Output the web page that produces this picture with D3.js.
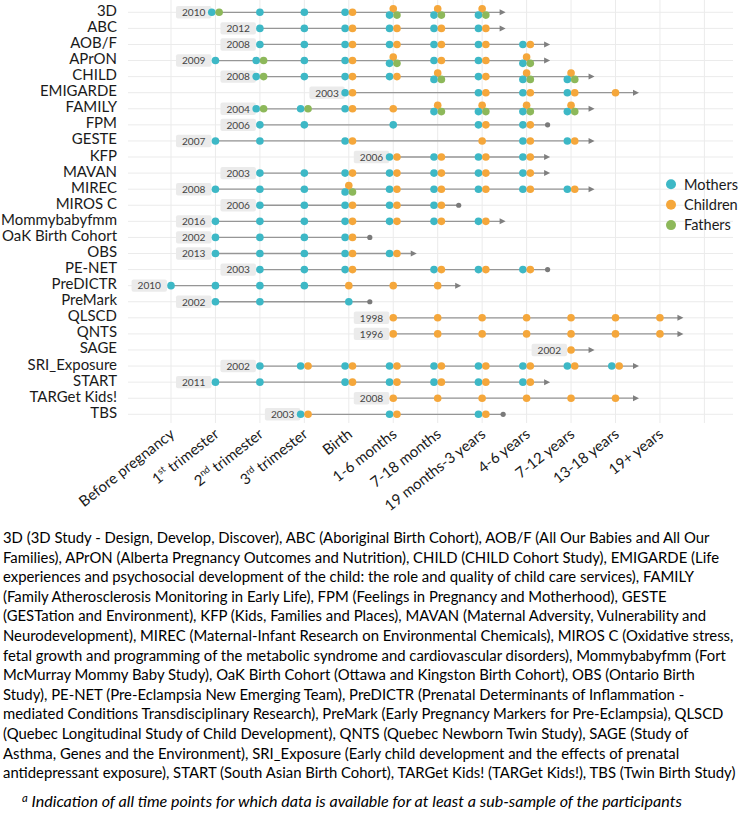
<!DOCTYPE html>
<html><head><meta charset="utf-8">
<script src="https://cdn.jsdelivr.net/npm/d3@7"></script>
<style>body{margin:0;background:#fff}svg{display:block}</style>
</head><body><svg id="c" width="742" height="814"></svg>
<script>
// ---------------- DATA ----------------
const studies = ["3D","ABC","AOB/F","APrON","CHILD","EMIGARDE","FAMILY","FPM","GESTE","KFP","MAVAN","MIREC","MIROS C","Mommybabyfmm","OaK Birth Cohort","OBS","PE-NET","PreDICTR","PreMark","QLSCD","QNTS","SAGE","SRI_Exposure","START","TARGet Kids!","TBS"];
const startYears = [2010,2012,2008,2009,2008,2003,2004,2006,2007,2006,2003,2008,2006,2016,2002,2013,2003,2010,2002,1998,1996,2002,2002,2011,2008,2003];
const timepoints = ["Before pregnancy","1st trimester","2nd trimester","3rd trimester","Birth","1-6 months","7-18 months","19 months-3 years","4-6 years","7-12 years","13-18 years","19+ years"];
// time-point indices (into timepoints) at which data exist, per study
const mothers = [
  [1,2,3,4,5,6,7],[2,3,4,5,6,7],[2,3,4,5,6,7,8],[1,2,3,4,5,6,7,8],[2,3,4,5,6,7,8,9],
  [4,7,8,9],[2,3,4,6,7,8,9],[2,3,5,7,8],[1,2,4,8,9],[5,6,7,8],
  [2,3,4,5,6,7,8],[1,2,3,4,5,6,7,8,9],[2,3,4,5,6],[1,2,3,4,5,6,7],[1,2,3,4],
  [1,2,3,4,5],[2,3,4,6,7,8],[0,1,2,3],[1,2,4],[],
  [],[],[2,3,4,5,6,7,8,9,10],[1,2,4,5,6,7,8],[],[3,5,7]
];
const children = [
  [4,5,6,7],[4,5,6,7],[4,5,6,7,8],[4,5,6,7,8],[4,5,6,7,8,9],
  [4,7,8,9,10],[4,5,6,7,8,9],[7,8],[4,7,8,9],[5,6,7,8],
  [4,5,6,7,8],[4,5,6,7,8,9],[4,5,6],[4,5,6,7],[4],
  [4,5],[4,6,7,8],[4,5,6],[],[5,6,7,8,9,10,11],
  [5,6,7,8,9,10,11],[9],[3,4,5,6,7,8,9,10],[4,5,6,7,8],[5,6,7,8,9,10],[3,5,7]
];
const fathers = [
  [1,5,6,7],[],[],[2,5,8],[2,6,8,9],
  [],[2,3,6,7,8,9],[],[],[],
  [],[4],[],[],[],
  [],[],[],[],[],
  [],[],[],[],[],[]
];
const followUp = ["ongoing","ongoing","ongoing","ongoing","ongoing","ongoing","ongoing","ended","ongoing","ongoing",
  "ongoing","ongoing","ended","ongoing","ended","ongoing","ended","ongoing","ended","ongoing",
  "ongoing","ongoing","ongoing","ongoing","ongoing","ended"];
const groups = ["Mothers","Children","Fathers"];
const groupColors = ["#3DB8C6","#F5A73B","#8DB85A"];
const studyNotes = [
  "3D (3D Study - Design, Develop, Discover), ABC (Aboriginal Birth Cohort), AOB/F (All Our Babies and All Our",
  "Families), APrON (Alberta Pregnancy Outcomes and Nutrition), CHILD (CHILD Cohort Study), EMIGARDE (Life",
  "experiences and psychosocial development of the child: the role and quality of child care services), FAMILY",
  "(Family Atherosclerosis Monitoring in Early Life), FPM (Feelings in Pregnancy and Motherhood), GESTE",
  "(GESTation and Environment), KFP (Kids, Families and Places), MAVAN (Maternal Adversity, Vulnerability and",
  "Neurodevelopment), MIREC (Maternal-Infant Research on Environmental Chemicals), MIROS C (Oxidative stress,",
  "fetal growth and programming of the metabolic syndrome and cardiovascular disorders), Mommybabyfmm (Fort",
  "McMurray Mommy Baby Study), OaK Birth Cohort (Ottawa and Kingston Birth Cohort), OBS (Ontario Birth",
  "Study), PE-NET (Pre-Eclampsia New Emerging Team), PreDICTR (Prenatal Determinants of Inflammation -",
  "mediated Conditions Transdisciplinary Research), PreMark (Early Pregnancy Markers for Pre-Eclampsia), QLSCD",
  "(Quebec Longitudinal Study of Child Development), QNTS (Quebec Newborn Twin Study), SAGE (Study of",
  "Asthma, Genes and the Environment), SRI_Exposure (Early child development and the effects of prenatal",
  "antidepressant exposure), START (South Asian Birth Cohort), TARGet Kids! (TARGet Kids!), TBS (Twin Birth Study)"
];
const footnoteMark = "a";
const footnoteText = "Indication of all time points for which data is available for at least a sub-sample of the participants";

// ---------------- LAYOUT ----------------
const FONT = "Lato, 'Open Sans', sans-serif";
const svg = d3.select("#c").style("font-family", FONT);
const x = d3.scaleLinear().domain([0, 12]).range([171, 704.4]);
const y = d3.scalePoint().domain(studies).range([12.3, 414.3]);
const color = d3.scaleOrdinal().domain(groups).range(groupColors);
const panel = {left: 128, right: 733, top: 0, bottom: 423};

// helper: fit font size so text width equals target
function fitSize(sample, target, base, style) {
  const t = svg.append("text").attr("font-size", base).attr("font-style", style || null).text(sample);
  const w = t.node().getComputedTextLength();
  t.remove();
  return base * target / w;
}
const rowFs = fitSize("Mommybabyfmm", 116, 16);
const yearFs = fitSize("2010", 23.5, 11);
const legFs = fitSize("Mothers", 54, 16);

// gridlines
const grid = svg.append("g").attr("stroke", "#EBEBEB").attr("stroke-width", 1);
grid.selectAll("line.v").data(d3.range(13)).join("line").attr("class","v")
  .attr("x1", d => x(d)).attr("x2", d => x(d)).attr("y1", panel.top).attr("y2", panel.bottom);
grid.selectAll("line.h").data(studies).join("line").attr("class","h")
  .attr("x1", panel.left).attr("x2", panel.right).attr("y1", d => y(d)).attr("y2", d => y(d));

// build records
const rows = studies.map((s, i) => {
  const all = Array.from(new Set([...mothers[i], ...children[i], ...fathers[i]])).sort((a,b)=>a-b);
  return {study: s, year: startYears[i], first: all[0], last: all[all.length-1], end: followUp[i], i};
});
const dots = [];
studies.forEach((s, i) => {
  const tps = Array.from(new Set([...mothers[i], ...children[i], ...fathers[i]]));
  tps.forEach(tp => {
    const has = [mothers[i].includes(tp), children[i].includes(tp), fathers[i].includes(tp)];
    const n = has.filter(Boolean).length;
    const pres = groups.filter((g, k) => has[k]);
    let off = {};
    if (n === 1) off[pres[0]] = [0, 0];
    else if (n === 2) { off[pres[0]] = [-3.7, 0]; off[pres[1]] = [3.7, 0]; }
    else { off.Children = [0, -3.6]; off.Mothers = [-3.7, 2.8]; off.Fathers = [3.7, 2.8]; }
    const order = n === 3 ? ["Children","Mothers","Fathers"] : pres;
    order.forEach(g => dots.push({study: s, tp, group: g, dx: off[g][0], dy: off[g][1]}));
  });
});

// follow-up lines
svg.append("g").selectAll("line").data(rows).join("line")
  .attr("x1", d => x(d.first)).attr("x2", d => x(d.last) + (d.end === "ongoing" ? 19 : 21))
  .attr("y1", d => y(d.study)).attr("y2", d => y(d.study))
  .attr("stroke", "#969696").attr("stroke-width", 1.3);

// end markers
svg.append("g").selectAll("path").data(rows.filter(d => d.end === "ongoing")).join("path")
  .attr("d", d => { const x0 = x(d.last) + 17.5, yy = y(d.study); return `M${x0},${yy-3}L${x0+6},${yy}L${x0},${yy+3}Z`; })
  .attr("fill", "#7F7F7F");
svg.append("g").selectAll("circle").data(rows.filter(d => d.end === "ended")).join("circle")
  .attr("cx", d => x(d.last) + 21).attr("cy", d => y(d.study)).attr("r", 2.6).attr("fill", "#7A7A7A");

// year labels
const yl = svg.append("g").selectAll("g").data(rows).join("g");
yl.append("text")
  .attr("x", d => x(d.first) - 10).attr("y", d => y(d.study) + 3.8)
  .attr("text-anchor", "end").attr("font-size", yearFs).attr("fill", "#444")
  .text(d => d.year);
yl.each(function(d) {
  const t = d3.select(this).select("text");
  const w = t.node().getComputedTextLength();
  const xr = x(d.first) - 4, xl = x(d.first) - 10 - w - 6;
  d3.select(this).insert("rect", "text")
    .attr("x", xl).attr("y", y(d.study) - 6.2).attr("width", xr - xl).attr("height", 12.4)
    .attr("rx", 2).attr("fill", "#EBEBEB");
});

// dots
svg.append("g").selectAll("circle").data(dots).join("circle")
  .attr("cx", d => x(d.tp) + d.dx).attr("cy", d => y(d.study) + d.dy)
  .attr("r", 3.8).attr("fill", d => color(d.group));

// y axis (study names)
const yAxis = svg.append("g").attr("transform", "translate(117,0)")
  .call(d3.axisLeft(y).tickSize(0).tickPadding(0));
yAxis.select(".domain").remove();
yAxis.selectAll("text").attr("font-family", FONT).attr("font-size", rowFs).attr("fill", "#1a1a1a")
  .attr("dy", null).attr("y", 3);

// x axis (time points)
const xAxis = svg.append("g").attr("transform", "translate(0,0)")
  .call(d3.axisBottom(x).tickValues(d3.range(12)).tickSize(0).tickFormat(i => timepoints[i]));
xAxis.select(".domain").remove();
const sup = {"1st trimester": ["1","st"," trimester"], "2nd trimester": ["2","nd"," trimester"], "3rd trimester": ["3","rd"," trimester"]};
xAxis.selectAll(".tick text").each(function(i) {
  const t = d3.select(this);
  const label = timepoints[i];
  t.text(null).attr("font-family", FONT).attr("font-size", rowFs).attr("fill", "#1a1a1a")
    .attr("text-anchor", "end").attr("dy", null).attr("y", null)
    .attr("transform", `translate(4,${panel.bottom + 13}) rotate(-38)`);
  if (sup[label]) {
    const p = sup[label];
    t.append("tspan").text(p[0]);
    t.append("tspan").attr("font-size", rowFs * 0.62).attr("dy", -6).text(p[1]);
    t.append("tspan").attr("dy", 6).text(p[2]);
  } else t.text(label);
});

// legend
const leg = svg.append("g").selectAll("g").data(groups).join("g")
  .attr("transform", (d, k) => `translate(671,${184.3 + k * 20.4})`);
leg.append("circle").attr("r", 5).attr("fill", d => color(d));
leg.append("text").attr("x", 13).attr("y", 5.3).attr("font-size", legFs).attr("fill", "#1a1a1a").text(d => d);

// study abbreviations
const noteFs = fitSize(studyNotes[6], 723, 15);
svg.append("g").selectAll("text").data(studyNotes).join("text")
  .attr("x", 3).attr("y", (d, k) => 543 + k * 19.6)
  .attr("font-size", noteFs).attr("fill", "#000").text(d => d);

// footnote
const fnFs = fitSize(footnoteText, 651, 14, "italic");
const fn = svg.append("text").attr("x", 22).attr("y", 807).attr("font-size", fnFs)
  .attr("font-style", "italic").attr("fill", "#000");
fn.append("tspan").attr("font-size", fnFs * 0.7).attr("dy", -5).attr("font-style", "italic").text(footnoteMark);
fn.append("tspan").attr("dy", 5).text(" " + footnoteText);
</script></body></html>
